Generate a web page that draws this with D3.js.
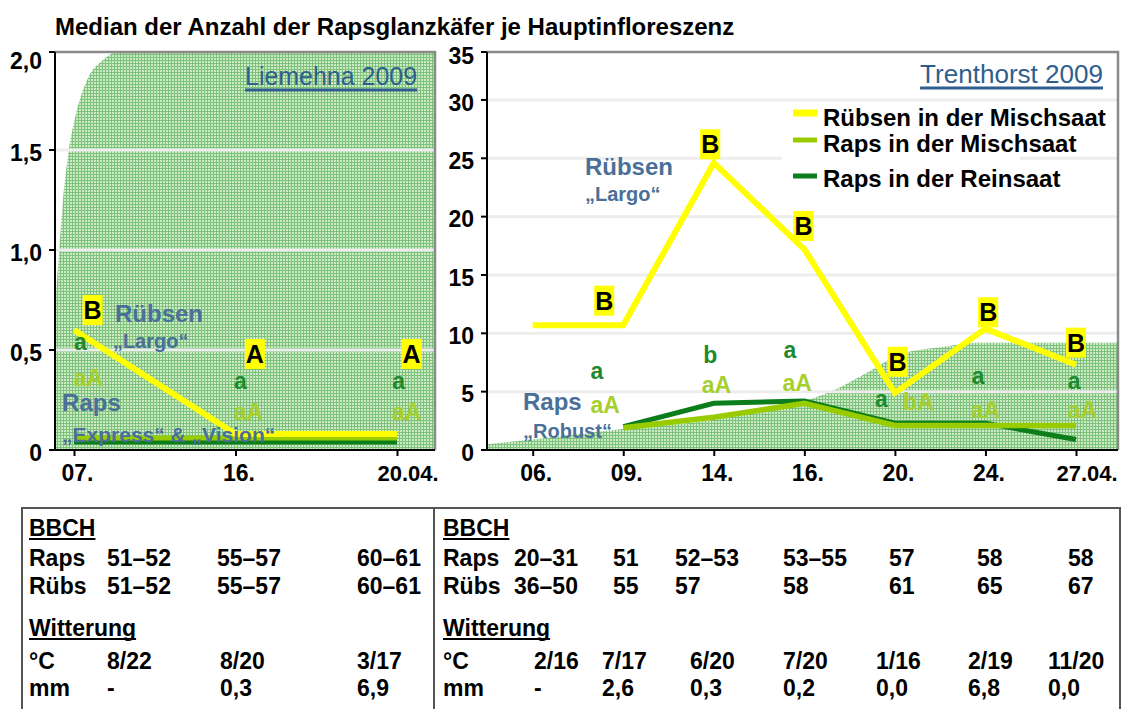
<!DOCTYPE html>
<html lang="de">
<head>
<meta charset="utf-8">
<title>Rapsglanzkäfer</title>
<script src="https://cdnjs.cloudflare.com/ajax/libs/d3/7.8.5/d3.min.js"></script>
<style>
  body { margin: 0; background: #fff; }
  svg { display: block; font-family: "Liberation Sans", Arial, sans-serif; }
</style>
</head>
<body>
<svg id="chart" width="1122" height="709"></svg>
<script>
const title = "Median der Anzahl der Rapsglanzkäfer je Hauptinfloreszenz";
const seriesNames = ["Rübsen in der Mischsaat", "Raps in der Mischsaat", "Raps in der Reinsaat"];

// Liemehna 2009
const leftDates = ["07.", "16.", "20.04."];
const leftRuebsen = [0.6, 0.08, 0.08];
const leftRapsMisch = [0.06, 0.06, 0.06];
const leftRapsRein = [0.04, 0.04, 0.04];
const leftYTicks = [0, 0.5, 1, 1.5, 2];
// background area, x in date-index units
const leftAreaX = [-0.12, -0.11, -0.093, -0.068, -0.037, 0.012, 0.087, 0.18, 0.3, 2.3];
const leftAreaY = [0.7, 0.8, 0.98, 1.25, 1.47, 1.68, 1.86, 1.95, 2.0, 2.0];
// letters: [date index, value, text]
const leftBoxes = [[0.115, 0.70, "B"], [1.12, 0.48, "A"], [2.09, 0.48, "A"]];
const leftLettersRein = [[0.04, 0.53, "a"], [1.03, 0.335, "a"], [2.01, 0.335, "a"]];
const leftLettersMisch = [[0.09, 0.36, "aA"], [1.08, 0.19, "aA"], [2.06, 0.19, "aA"]];
const leftNames = [[0.254, 0.685, "Rübsen"], [0.241, 0.535, "„Largo“"], [-0.074, 0.225, "Raps"], [-0.074, 0.065, "„Express“ & „Vision“"]];

// Trenthorst 2009
const rightDates = ["06.", "09.", "14.", "16.", "20.", "24.", "27.04."];
const rightRuebsen = [10.7, 10.7, 24.6, 17.2, 4.9, 10.4, 7.3];
const rightRapsMisch = [null, 1.9, 2.8, 4.0, 2.1, 2.1, 2.1];
const rightRapsRein = [null, 2.0, 4.0, 4.2, 2.3, 2.3, 0.9];
const rightYTicks = [0, 5, 10, 15, 20, 25, 30, 35];
const rightAreaX = [-0.5, 0, 1, 2, 2.92, 3.32, 3.73, 4.06, 4.5, 4.91, 6.5];
const rightAreaY = [0.5, 0.9, 1.8, 2.6, 4.0, 5.1, 6.8, 8.2, 8.8, 9.2, 9.2];
const rightBoxes = [[0.79, 12.8, "B"], [1.96, 26.2, "B"], [2.99, 19.2, "B"], [4.03, 7.56, "B"], [5.03, 11.8, "B"], [6.0, 9.2, "B"]];
const rightLettersRein = [[0.71, 6.57, "a"], [1.96, 8.13, "b"], [2.84, 8.4, "a"], [3.85, 4.2, "a"], [4.92, 6.14, "a"], [5.98, 5.7, "a"]];
const rightLettersMisch = [[0.8, 3.85, "aA"], [2.03, 5.57, "aA"], [2.92, 5.74, "aA"], [4.26, 4.14, "bA"], [5.0, 3.42, "aA"], [6.07, 3.42, "aA"]];
const rightNames = [[0.577, 24.3, "Rübsen"], [0.577, 21.8, "„Largo“"], [-0.107, 3.94, "Raps"], [-0.107, 1.46, "„Robust“"]];

// tables
const leftBbchRaps = ["51–52", "55–57", "60–61"];
const leftBbchRuebs = ["51–52", "55–57", "60–61"];
const leftTemp = ["8/22", "8/20", "3/17"];
const leftRain = ["-", "0,3", "6,9"];
const rightBbchRaps = ["20–31", "51", "52–53", "53–55", "57", "58", "58"];
const rightBbchRuebs = ["36–50", "55", "57", "58", "61", "65", "67"];
const rightTemp = ["2/16", "7/17", "6/20", "7/20", "1/16", "2/19", "11/20"];
const rightRain = ["-", "2,6", "0,3", "0,2", "0,0", "6,8", "0,0"];

const C = {
    yellow: "#ffff00", light: "#99cc00", dark: "#0b7d1b",
    darkText: "#1f8a2c", lightText: "#a6cf2e", blue: "#4a6f99", loc: "#2f5e8e",
    frame: "#8a8a8a", grid: "#ededed", table: "#555"
};

const svg = d3.select("#chart");
const defs = svg.append("defs");

// fine green grid fill
const pat = defs.append("pattern")
    .attr("id", "hatch")
    .attr("width", 3)
    .attr("height", 3)
    .attr("patternUnits", "userSpaceOnUse");
pat.append("rect").attr("width", 3).attr("height", 3).attr("fill", "#cde9c5");
pat.append("path").attr("d", "M0,0.5H3M0.5,0V3").attr("stroke", "#7cc27a").attr("stroke-width", 1);

svg.append("text")
    .attr("x", 55)
    .attr("y", 35)
    .attr("font-size", 24)
    .attr("font-weight", "bold")
    .attr("fill", "#000")
    .text(title);

function addText(g, x, y, text, size, color, dy, bold) {
    return g.append("text")
        .attr("x", x)
        .attr("y", y)
        .attr("dy", dy)
        .attr("font-size", size)
        .attr("font-weight", bold ? "bold" : "normal")
        .attr("fill", color)
        .text(text);
}

function drawPanel(p) {
    const g = svg.append("g");
    const x = d3.scaleLinear().domain([0, p.dates.length - 1]).range(p.xRange);
    const y = d3.scaleLinear().domain(p.yDomain).range([p.bottom, p.yTop]);

    defs.append("clipPath").attr("id", p.id + "-clip")
        .append("rect")
        .attr("x", p.left)
        .attr("y", p.top)
        .attr("width", p.right - p.left)
        .attr("height", p.bottom - p.top);

    const area = d3.area()
        .x(d => x(d[0]))
        .y0(y(0))
        .y1(d => y(d[1]))
        .curve(d3.curveMonotoneX);

    g.append("path")
        .datum(d3.zip(p.areaX, p.areaY))
        .attr("d", area)
        .attr("fill", "url(#hatch)")
        .attr("clip-path", `url(#${p.id}-clip)`);

    // gridlines
    g.append("g")
        .selectAll("line")
        .data(p.ticks.filter(t => t > 0 && y(t) > p.top + 2))
        .join("line")
        .attr("x1", p.left)
        .attr("x2", p.right)
        .attr("y1", d => y(d))
        .attr("y2", d => y(d))
        .attr("stroke", C.grid)
        .attr("stroke-width", 3);

    if (p.legend) p.legend(g);

    // frame: top and right in grey
    g.append("path")
        .attr("d", `M${p.left},${p.top}H${p.right}V${p.bottom}`)
        .attr("fill", "none")
        .attr("stroke", C.frame)
        .attr("stroke-width", 2.5);

    // y axis
    const ya = g.append("g")
        .attr("transform", `translate(${p.left},0)`)
        .call(d3.axisLeft(y).tickValues(p.ticks).tickFormat(p.fmt).tickSize(6).tickPadding(7));
    ya.select(".domain").remove();
    ya.selectAll(".tick").attr("transform", d => `translate(0,${Math.max(y(d), p.top)})`);
    ya.selectAll(".tick line").attr("stroke", "#000").attr("stroke-width", 2);
    ya.selectAll(".tick text")
        .attr("font-size", 23)
        .attr("font-weight", "bold")
        .attr("font-family", null)
        .attr("fill", "#000")
        .attr("dy", "0.47em");
    ya.selectAll(".tick").filter(d => y(d) <= p.top).select("text").attr("dy", p.topDy);

    // x axis
    const xa = g.append("g")
        .attr("transform", `translate(0,${p.bottom})`)
        .call(d3.axisBottom(x).tickValues(d3.range(p.dates.length)).tickFormat(i => p.dates[i]).tickSize(6).tickPadding(9));
    xa.select(".domain").remove();
    xa.selectAll(".tick line").attr("stroke", "#000").attr("stroke-width", 2);
    xa.selectAll(".tick text")
        .attr("font-size", d => p.dates[d].length > 3 ? 22 : 23)
        .attr("font-weight", "bold")
        .attr("font-family", null)
        .attr("fill", "#000")
        .attr("text-anchor", "start")
        .attr("x", d => p.dates[d].length > 3 ? -20 : -13);

    g.append("path")
        .attr("d", `M${p.left},${p.top}V${p.bottom}H${p.right}`)
        .attr("fill", "none")
        .attr("stroke", "#000")
        .attr("stroke-width", 2);

    // series
    const line = d3.line()
        .defined(d => d[1] != null)
        .x(d => x(d[0]))
        .y(d => y(d[1]));

    p.series.forEach(s => {
        g.append("path")
            .datum(s.values.map((v, i) => [i, v]))
            .attr("d", line)
            .attr("fill", "none")
            .attr("stroke", s.color)
            .attr("stroke-width", s.width)
            .attr("stroke-linejoin", "miter");
    });

    // significance letters
    p.boxes.forEach(([i, v, t]) => {
        const txt = addText(g, x(i), y(v), t, 25, "#000", "0.36em", true).attr("text-anchor", "middle");
        const w = txt.node().getComputedTextLength();
        g.insert("rect", () => txt.node())
            .attr("x", x(i) - w / 2 - 1)
            .attr("y", y(v) - 15)
            .attr("width", w + 2)
            .attr("height", 30)
            .attr("fill", C.yellow);
    });
    const letterDy = t => /[A-Zb]/.test(t) ? "0.36em" : "0.26em";
    p.rein.forEach(([i, v, t]) => addText(g, x(i), y(v), t, 23, C.darkText, letterDy(t), true).attr("text-anchor", "middle"));
    p.misch.forEach(([i, v, t]) => addText(g, x(i), y(v), t, 23, C.lightText, letterDy(t), true).attr("text-anchor", "middle"));

    // variety names
    p.names.forEach(([i, v, t]) => {
        const small = t.startsWith("„");
        const size = small ? (t.length > 10 ? 21 : 20) : 24;
        const dy = t === "Rübsen" ? "0.36em" : "0.26em";
        addText(g, x(i), y(v), t, size, C.blue, dy, true);
    });

    // location title, underlined, sized to the reference width
    const loc = addText(g, p.loc.x, p.loc.y, p.loc.text, 24, C.loc, 0, false).attr("text-anchor", "end");
    const fitSize = 24 * p.loc.w / loc.node().getComputedTextLength();
    loc.attr("font-size", fitSize);
    const lw = loc.node().getComputedTextLength();
    g.append("line")
        .attr("x1", p.loc.x - lw)
        .attr("x2", p.loc.x)
        .attr("y1", p.loc.y + 5)
        .attr("y2", p.loc.y + 5)
        .attr("stroke", C.loc)
        .attr("stroke-width", 3);
}

drawPanel({
    id: "liemehna",
    dates: leftDates,
    xRange: [74, 397],
    yDomain: [0, 2],
    yTop: 50,
    left: 55, right: 435, top: 52, bottom: 450,
    ticks: leftYTicks,
    fmt: d => d === 0 ? "0" : d3.format(".1f")(d).replace(".", ","),
    topDy: 16.6,
    areaX: leftAreaX, areaY: leftAreaY,
    series: [
        { values: leftRapsRein, color: C.dark, width: 5 },
        { values: leftRapsMisch, color: C.light, width: 5 },
        { values: leftRuebsen, color: C.yellow, width: 6 }
    ],
    boxes: leftBoxes, rein: leftLettersRein, misch: leftLettersMisch, names: leftNames,
    loc: { text: "Liemehna 2009", x: 417, y: 85, w: 172 }
});

const legendY = [126, 152, 187];
const legendSwatch = [
    { color: C.yellow, width: 7, y: 113 },
    { color: C.light, width: 5, y: 140 },
    { color: C.dark, width: 5, y: 176 }
];

drawPanel({
    id: "trenthorst",
    dates: rightDates,
    xRange: [532.7, 1076],
    yDomain: [0, 35],
    yTop: 41.6,
    left: 487, right: 1118, top: 52, bottom: 450,
    ticks: rightYTicks,
    fmt: d => String(d),
    topDy: 11.6,
    areaX: rightAreaX, areaY: rightAreaY,
    series: [
        { values: rightRapsRein, color: C.dark, width: 5 },
        { values: rightRapsMisch, color: C.light, width: 5.5 },
        { values: rightRuebsen, color: C.yellow, width: 6 }
    ],
    boxes: rightBoxes, rein: rightLettersRein, misch: rightLettersMisch, names: rightNames,
    loc: { text: "Trenthorst 2009", x: 1103, y: 83, w: 183 },
    legend: g => {
        g.append("rect").attr("x", 782).attr("y", 104).attr("width", 238).attr("height", 96).attr("fill", "#fff");
        seriesNames.forEach((name, k) => {
            const s = legendSwatch[k];
            g.append("line")
                .attr("x1", 793).attr("x2", 817)
                .attr("y1", s.y).attr("y2", s.y)
                .attr("stroke", s.color)
                .attr("stroke-width", s.width);
            addText(g, 823, legendY[k], name, 24, "#000", 0, true);
        });
    }
});

// weather / growth stage tables
const table = svg.append("g");
table.append("path")
    .attr("d", "M22,709V508H1120V709M434,508V709")
    .attr("fill", "none")
    .attr("stroke", C.table)
    .attr("stroke-width", 2);

const rowY = { bbch: 536, raps: 566, ruebs: 594, witt: 636, temp: 669, rain: 696 };

function drawTableBlock(x0, bbchCols, wetterCols, raps, ruebs, temp, rain) {
    [["BBCH", rowY.bbch], ["Witterung", rowY.witt]].forEach(([t, yy]) => {
        const txt = addText(table, x0, yy, t, 23, "#000", 0, true);
        const w = txt.node().getComputedTextLength();
        table.append("line")
            .attr("x1", x0).attr("x2", x0 + w)
            .attr("y1", yy + 3).attr("y2", yy + 3)
            .attr("stroke", "#000").attr("stroke-width", 2);
    });
    addText(table, x0, rowY.raps, "Raps", 23, "#000", 0, true);
    addText(table, x0, rowY.ruebs, "Rübs", 23, "#000", 0, true);
    addText(table, x0, rowY.temp, "°C", 23, "#000", 0, true);
    addText(table, x0, rowY.rain, "mm", 23, "#000", 0, true);
    raps.forEach((t, k) => addText(table, bbchCols[k], rowY.raps, t, 23, "#000", 0, true));
    ruebs.forEach((t, k) => addText(table, bbchCols[k], rowY.ruebs, t, 23, "#000", 0, true));
    temp.forEach((t, k) => addText(table, wetterCols[k], rowY.temp, t, 23, "#000", 0, true));
    rain.forEach((t, k) => addText(table, wetterCols[k], rowY.rain, t, 23, "#000", 0, true));
}

drawTableBlock(29, [107, 217, 357], [107, 220, 357], leftBbchRaps, leftBbchRuebs, leftTemp, leftRain);
drawTableBlock(443, [514, 613, 675, 783, 889, 977, 1068], [534, 602, 690, 783, 876, 968, 1048],
    rightBbchRaps, rightBbchRuebs, rightTemp, rightRain);
</script>
</body>
</html>
